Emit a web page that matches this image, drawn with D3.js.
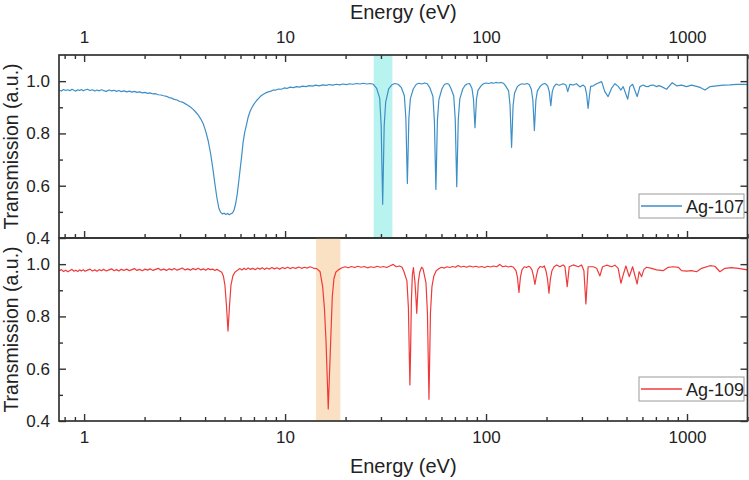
<!DOCTYPE html>
<html><head><meta charset="utf-8">
<script src="https://cdn.jsdelivr.net/npm/d3@7"></script>
<style>
body{margin:0;background:#fff}
svg text{font-family:Arial,"Liberation Sans",sans-serif;fill:#222}
</style></head>
<body>
<svg id="chart" width="749" height="480"></svg>
<script>
// ---- data ----
const xTickLabels = [1, 10, 100, 1000];
const yMajorTicks = [0.4, 0.6, 0.8, 1.0];
const yMinorTicks = [0.5, 0.7, 0.9];
const seriesNames = ["Ag-107", "Ag-109"];
const band107 = [27.6, 34.2];   // highlighted energy window, top panel (eV)
const band109 = [14.26, 18.85]; // highlighted energy window, bottom panel (eV)

// [energy (eV), transmission]
const ag107 = [
[0.75,0.966],[0.77,0.962],[0.79,0.968],[0.81,0.964],[0.83,0.967],[0.85,0.963],[0.87,0.969],[0.89,0.965],[0.91,0.962],[0.93,0.967],
[0.95,0.964],[0.97,0.968],[0.99,0.963],[1.01,0.966],[1.04,0.969],[1.07,0.964],[1.1,0.967],[1.13,0.962],[1.16,0.966],[1.19,0.963],
[1.22,0.967],[1.25,0.964],[1.29,0.961],[1.33,0.966],[1.37,0.963],[1.41,0.965],[1.45,0.961],[1.49,0.964],[1.53,0.96],[1.58,0.963],
[1.63,0.959],[1.68,0.962],[1.73,0.958],[1.78,0.961],[1.83,0.957],[1.89,0.959],[1.95,0.955],[2.01,0.957],[2.07,0.953],[2.13,0.955],
[2.2,0.951],[2.27,0.952],[2.34,0.948],[2.41,0.947],[2.49,0.944],[2.57,0.942],[2.65,0.937],[2.73,0.935],[2.81,0.93],[2.9,0.928],
[2.99,0.922],[3.08,0.92],[3.18,0.914],[3.28,0.908],[3.38,0.901],[3.48,0.893],[3.59,0.882],[3.7,0.87],[3.81,0.855],[3.92,0.836],
[4.03,0.808],[4.14,0.773],[4.25,0.728],[4.36,0.672],[4.47,0.61],[4.58,0.553],[4.68,0.515],[4.78,0.498],[4.88,0.492],[4.98,0.495],
[5.08,0.49],[5.18,0.494],[5.28,0.489],[5.38,0.493],[5.48,0.496],[5.58,0.508],[5.68,0.532],[5.78,0.568],[5.88,0.615],[5.98,0.665],
[6.08,0.712],[6.18,0.765],[6.3,0.805],[6.42,0.832],[6.55,0.862],[6.7,0.885],[6.85,0.9],[7.0,0.912],[7.2,0.925],[7.4,0.935],
[7.6,0.944],[7.8,0.95],[8.0,0.955],[8.25,0.959],[8.5,0.962],[8.75,0.966],[9.0,0.966],[9.3,0.97],[9.6,0.969],[9.9,0.974],
[10.2,0.972],[10.6,0.977],[11.0,0.975],[11.4,0.979],[11.8,0.977],[12.2,0.981],[12.7,0.979],[13.2,0.983],[13.7,0.981],[14.2,0.985],
[14.8,0.982],[15.4,0.986],[16.0,0.984],[16.6,0.987],[17.3,0.985],[18.0,0.988],[18.7,0.986],[19.4,0.989],[20.2,0.987],[21.0,0.99],
[21.8,0.988],[22.7,0.991],[23.6,0.989],[24.5,0.992],[25.5,0.989],[26.5,0.991],[27.5,0.988],
[28.57,0.972],[29.57,0.935],[30.08,0.829],[30.35,0.667],[30.6,0.529],[30.85,0.667],[31.13,0.829],[31.67,0.92],[32.77,0.97],
[34.0,0.986],[35.2,0.991],[36.5,0.988],
[37.91,0.975],[39.23,0.944],[39.91,0.857],[40.27,0.723],[40.6,0.609],[40.93,0.723],[41.3,0.857],[42.02,0.933],[43.48,0.971],
[45.0,0.988],[46.5,0.992],[48.0,0.989],[49.5,0.993],[51.0,0.99],
[52.57,0.974],[54.4,0.942],[55.34,0.849],[55.85,0.707],[56.3,0.586],[56.76,0.707],[57.27,0.849],[58.27,0.929],[60.3,0.97],
[62.0,0.987],[63.8,0.991],[65.3,0.988],
[66.76,0.974],[69.08,0.943],[70.28,0.852],[70.93,0.714],[71.5,0.596],[72.08,0.714],[72.74,0.852],[74.0,0.931],[76.58,0.97],
[78.5,0.983],[80.5,0.989],[82.8,0.991],
[85.12,0.972],[86.6,0.931],[87.4,0.872],[88.1,0.822],[88.81,0.872],[89.62,0.931],[91.18,0.965],[94.4,0.982],
[97,0.99],[100,0.993],[103,0.991],[106,0.994],[109,0.992],[112,0.995],[115.5,0.993],[119,0.995],[122,0.992],
[125.1,0.982],[129.5,0.963],[131.7,0.906],[132.9,0.82],[134,0.747],[135.1,0.82],[136.3,0.906],[138.7,0.955],[143.5,0.98],
[147,0.986],[151,0.99],[155.5,0.988],[160,0.991],[164,0.987],
[168.1,0.968],[171,0.927],[172.6,0.865],[174,0.811],[175.4,0.865],[177,0.927],[180.1,0.963],[186.4,0.981],
[191,0.988],[196,0.991],[200,0.987],
[202.9,0.98],[206.4,0.96],[210,0.906],[213.6,0.96],[217.4,0.978],
[223,0.989],[228,0.986],[233,0.985],[242,0.99],[250,0.985],[255,0.96],[261.5,0.988],[271.6,0.985],[282,0.99],[293,0.978],[304.6,0.985],
[311,0.978],[316.5,0.95],[322,0.896],[327.6,0.95],[331.5,0.98],[341.5,0.982],[355,0.99],[376,0.998],[390,0.96],[405,0.941],
[421.6,0.973],[437.8,0.99],[454.6,0.98],[469,0.966],[481.4,0.979],[507,0.931],[519.8,0.979],[536,0.988],[565,0.941],[583,0.979],
[605,0.985],[623,0.98],[641,0.979],[660,0.984],[679,0.985],[706,0.979],[725,0.983],[747,0.979],[791.5,0.969],[844,0.994],
[888,0.982],[940,0.985],[995,0.979],[1054,0.985],[1116,0.98],[1170,0.975],[1228,0.966],[1300,0.979],[1404,0.982],[1514,0.985],
[1634,0.986],[1766,0.988],[1942,0.988],[2000,0.987]
];

const ag109 = [
[0.75,0.974],[0.77,0.979],[0.79,0.972],[0.81,0.977],[0.83,0.971],[0.85,0.976],[0.87,0.98],[0.89,0.973],[0.91,0.977],[0.93,0.972],
[0.95,0.978],[0.97,0.974],[0.99,0.979],[1.01,0.973],[1.04,0.977],[1.07,0.981],[1.1,0.974],[1.13,0.978],[1.16,0.973],[1.19,0.979],
[1.22,0.975],[1.25,0.98],[1.29,0.974],[1.33,0.978],[1.37,0.982],[1.41,0.975],[1.45,0.979],[1.49,0.974],[1.53,0.98],[1.58,0.976],
[1.63,0.981],[1.68,0.975],[1.73,0.979],[1.78,0.983],[1.83,0.976],[1.89,0.98],[1.95,0.975],[2.01,0.981],[2.07,0.977],[2.13,0.982],
[2.2,0.976],[2.27,0.98],[2.34,0.984],[2.41,0.977],[2.49,0.981],[2.57,0.976],[2.65,0.982],[2.73,0.978],[2.81,0.983],[2.9,0.977],
[2.99,0.981],[3.08,0.985],[3.18,0.978],[3.28,0.982],[3.38,0.977],[3.48,0.983],[3.59,0.979],[3.7,0.984],[3.81,0.978],[3.92,0.982],
[4.03,0.977],[4.14,0.983],[4.25,0.979],[4.36,0.981],[4.47,0.976],[4.58,0.98],[4.7,0.975],
[4.84,0.969],[4.93,0.955],[5.02,0.92],[5.11,0.84],[5.2,0.744],[5.29,0.84],[5.38,0.92],[5.5,0.955],[5.63,0.969],[5.8,0.977],
[5.95,0.983],[6.1,0.978],[6.25,0.984],[6.4,0.979],[6.55,0.985],[6.7,0.98],[6.9,0.984],[7.1,0.979],[7.3,0.985],[7.5,0.981],
[7.7,0.986],[7.9,0.98],[8.1,0.985],[8.35,0.981],[8.6,0.987],[8.85,0.982],[9.1,0.986],[9.4,0.981],[9.7,0.987],[10.0,0.983],
[10.3,0.988],[10.6,0.983],[10.9,0.987],[11.3,0.984],[11.7,0.989],[12.1,0.984],[12.5,0.988],[12.9,0.985],[13.3,0.99],[13.8,0.985],
[14.36,0.983],[14.92,0.972],[15.38,0.914],[15.7,0.83],[15.98,0.71],[16.22,0.56],[16.4,0.446],[16.6,0.56],[16.87,0.71],[17.18,0.876],
[17.51,0.945],[17.91,0.97],[18.4,0.978],[19.2,0.986],
[19.9,0.99],[20.6,0.986],[21.4,0.991],[22.2,0.987],[23.0,0.992],[23.9,0.988],[24.8,0.991],[25.7,0.986],[26.7,0.99],[27.7,0.987],
[28.7,0.992],[29.8,0.988],[30.9,0.991],[32.0,0.987],[33.2,0.993],[34.5,0.999],[35.8,0.99],[37.1,0.993],[38.2,0.988],
[39.03,0.972],[40.39,0.936],[41.09,0.832],[41.46,0.674],[41.8,0.538],[42.14,0.674],[42.52,0.86],[43.0,0.96],[43.5,0.987],
[44.3,0.93],[44.8,0.87],[45.2,0.812],[45.6,0.87],[46.0,0.93],[46.8,0.97],[47.8,0.988],[48.6,0.982],
[50.24,0.929],[51.1,0.813],[51.58,0.635],[52.0,0.483],[52.42,0.635],[52.9,0.813],[53.8,0.914],[55.0,0.955],[56.5,0.975],[58.2,0.982],
[60,0.988],[62,0.985],[64,0.99],[66,0.987],[68.3,0.991],[70.5,0.988],[72.5,0.995],[75,0.989],[77.5,0.992],[80,0.988],
[83,0.993],[86,0.989],[89,0.992],[92,0.988],[95,0.991],[98.5,0.987],[102,0.992],[105.5,0.989],[109,0.993],[113,0.99],
[117,0.999],[121,0.99],[125,0.993],[129,0.989],[133,0.992],[137,0.988],
[140.9,0.975],[143.3,0.95],[145.8,0.892],[148.3,0.95],[150.9,0.978],[155,0.99],[159,0.987],[163,0.992],[166,0.988],
[169.2,0.978],[172.1,0.955],[175.1,0.923],[178.1,0.955],[181.2,0.98],[186,0.991],[191,0.988],[195,0.993],
[198.7,0.975],[202.1,0.945],[205.6,0.889],[209.2,0.945],[212.8,0.975],[218,0.99],[224.5,0.997],[233,0.99],[242,0.997],[247,0.99],
[253.5,0.914],[259.4,0.99],[271.6,0.997],[287.6,0.99],[298.9,0.997],[306.9,0.975],[314,0.848],[322,0.99],[341.5,0.99],[355,0.984],
[368.6,0.955],[380,0.99],[398,0.996],[421.6,0.99],[437.8,0.996],[454.6,0.984],[469,0.927],[481.4,0.959],[496.6,0.993],[515.8,0.952],
[536.2,0.99],[565,0.924],[577.7,0.971],[594.5,0.952],[610.3,0.98],[629.5,0.988],[666.7,0.984],[706,0.978],[761.3,0.975],[806.3,0.988],
[853.8,0.99],[904.3,0.988],[940,0.975],[995.5,0.973],[1054,0.975],[1116,0.971],[1182,0.984],[1300,0.994],[1376,0.992],[1458,0.971],
[1544,0.984],[1667,0.987],[1798,0.984],[2000,0.978]
];

// ---- layout ----
const L = 59, R = 747.5, T1 = 55, B1 = 238, T2 = 238, B2 = 421;
const colors = ["#3d8fc7", "#f03a3a"];
const bandColors = ["#b9f3f0", "#fbe1c4"];
const frameColor = "#333";

const svg = d3.select("#chart");
const x = d3.scaleLog().domain([0.75, 2000]).range([L, R]);
const yTop = d3.scaleLinear().domain([0.4, 1.1]).range([B1, T1]);
const yBot = d3.scaleLinear().domain([0.4, 1.1]).range([B2, T2]);
const minorX = x.ticks().filter(v => !xTickLabels.includes(v));

const panels = [
  {y: yTop, data: ag107, band: band107, top: T1, bottom: B1, name: seriesNames[0], color: colors[0], bandColor: bandColors[0], topTicks: true, bottomLabels: false},
  {y: yBot, data: ag109, band: band109, top: T2, bottom: B2, name: seriesNames[1], color: colors[1], bandColor: bandColors[1], topTicks: false, bottomLabels: true}
];

panels.forEach((p, i) => {
  const clipId = "clip" + i;
  svg.append("clipPath").attr("id", clipId).append("rect")
    .attr("x", L).attr("y", p.top).attr("width", R - L).attr("height", p.bottom - p.top);

  // highlight band
  svg.append("rect")
    .attr("x", x(p.band[0])).attr("y", p.top)
    .attr("width", x(p.band[1]) - x(p.band[0])).attr("height", p.bottom - p.top)
    .attr("fill", p.bandColor);

  // data line
  const line = d3.line().x(d => x(d[0])).y(d => p.y(d[1]));
  svg.append("path").datum(p.data)
    .attr("clip-path", `url(#${clipId})`)
    .attr("d", line).attr("fill", "none")
    .attr("stroke", p.color).attr("stroke-width", 1.2).attr("stroke-linejoin", "round");

  // left axis
  const gl = svg.append("g").attr("transform", `translate(${L},0)`)
    .call(d3.axisLeft(p.y).tickValues(yMajorTicks).tickSize(-7).tickPadding(9).tickFormat(d3.format(".1f")));
  gl.append("g").call(d3.axisLeft(p.y).tickValues(yMinorTicks).tickSize(-4).tickFormat(""));
  // right axis
  const gr = svg.append("g").attr("transform", `translate(${R},0)`)
    .call(d3.axisRight(p.y).tickValues(yMajorTicks).tickSize(-7).tickFormat(""));
  gr.append("g").call(d3.axisRight(p.y).tickValues(yMinorTicks).tickSize(-4).tickFormat(""));

  if (p.topTicks) {
    const gt = svg.append("g").attr("transform", `translate(0,${p.top})`)
      .call(d3.axisTop(x).tickValues(xTickLabels).tickSize(-7).tickPadding(12).tickFormat(d3.format("d")));
    gt.append("g").call(d3.axisTop(x).tickValues(minorX).tickSize(-4).tickFormat(""));
  }
  const gb = svg.append("g").attr("transform", `translate(0,${p.bottom})`)
    .call(d3.axisBottom(x).tickValues(xTickLabels).tickSize(-7).tickPadding(10)
      .tickFormat(p.bottomLabels ? d3.format("d") : ""));
  gb.append("g").call(d3.axisBottom(x).tickValues(minorX).tickSize(-4).tickFormat(""));

  // frame
  svg.append("rect").attr("x", L).attr("y", p.top).attr("width", R - L).attr("height", p.bottom - p.top)
    .attr("fill", "none").attr("stroke", frameColor).attr("stroke-width", 1.7);

  // y title
  svg.append("text")
    .attr("transform", `translate(18,${(p.top + p.bottom) / 2}) rotate(-90)`)
    .attr("text-anchor", "middle").attr("font-size", 19.5).text("Transmission (a.u.)");

  // legend
  const ly = p.bottom - 44;
  const lg = svg.append("g").attr("transform", `translate(639,${ly})`);
  lg.append("rect").attr("x", 0).attr("y", 0).attr("width", 105).attr("height", 24)
    .attr("fill", "#fff").attr("stroke", "#9a9a9a").attr("stroke-width", 1);
  lg.append("line").attr("x1", 2).attr("x2", 43).attr("y1", 12).attr("y2", 12)
    .attr("stroke", p.color).attr("stroke-width", 1.5);
  lg.append("text").attr("x", 47).attr("y", 18.5).attr("font-size", 18).text(p.name);
});

svg.selectAll(".domain").remove();
svg.selectAll(".tick line").attr("stroke", frameColor).attr("stroke-width", 1.4);
svg.selectAll(".tick text").attr("font-size", 17).attr("fill", "#222").attr("font-family", "Arial, 'Liberation Sans', sans-serif");

// x titles
svg.append("text").attr("x", (L + R) / 2).attr("y", 19).attr("text-anchor", "middle")
  .attr("font-size", 20).text("Energy (eV)");
svg.append("text").attr("x", (L + R) / 2).attr("y", 473).attr("text-anchor", "middle")
  .attr("font-size", 20).text("Energy (eV)");
</script>
</body></html>
